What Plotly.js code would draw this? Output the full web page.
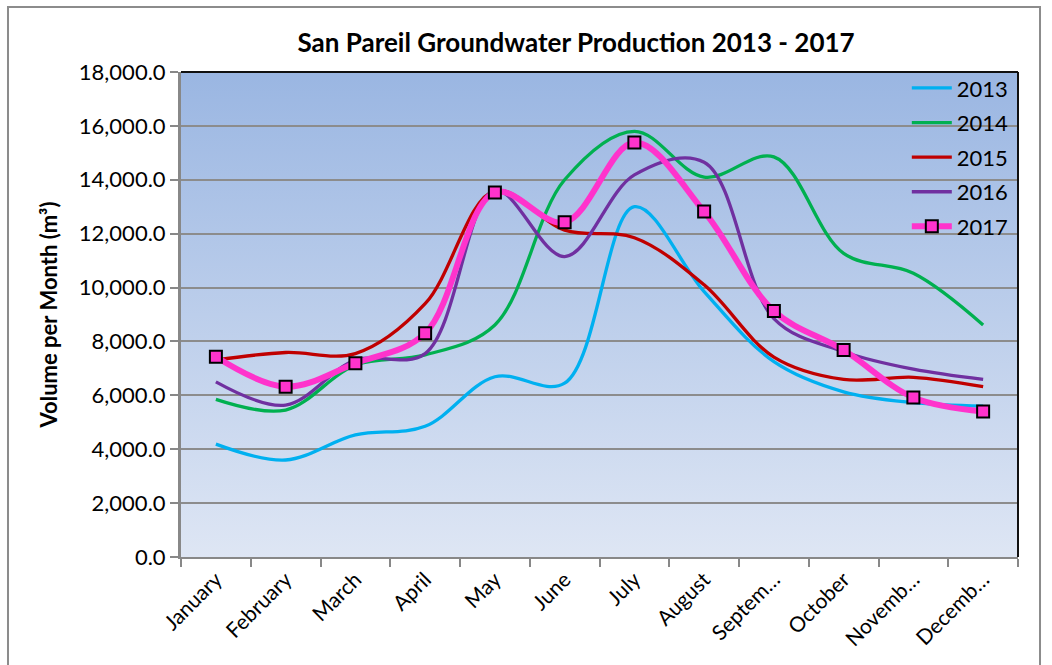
<!DOCTYPE html>
<html>
<head>
<meta charset="utf-8">
<script src="https://cdn.plot.ly/plotly-3.0.1.min.js"></script>
<style>
  html, body { margin: 0; padding: 0; background: #ffffff; }
  #chart { width: 1052px; height: 665px; }
</style>
</head>
<body>
<div id="chart"></div>
<script>
const months = ["January", "February", "March", "April", "May", "June", "July", "August", "September", "October", "November", "December"];
const tickLabels = ["January", "February", "March", "April", "May", "June", "July", "August", "Septem…", "October", "Novemb…", "Decemb…"];
const seriesNames = ["2013", "2014", "2015", "2016", "2017"];
const v2013 = [4190, 3600, 4530, 4850, 6690, 6450, 13000, 9850, 7250, 6130, 5730, 5600];
const v2014 = [5850, 5455, 7125, 7500, 8610, 14000, 15800, 14100, 14850, 11270, 10530, 8610];
const v2015 = [7310, 7590, 7550, 9400, 13600, 12130, 11850, 10100, 7420, 6590, 6670, 6320];
const v2016 = [6500, 5640, 7310, 7550, 13600, 11150, 14180, 14650, 8850, 7620, 6970, 6590];
const v2017 = [7430, 6320, 7190, 8300, 13530, 12420, 15380, 12820, 9130, 7680, 5920, 5400];
const yTicks = [0, 2000, 4000, 6000, 8000, 10000, 12000, 14000, 16000, 18000];

const colors = ["#00B0F0", "#00B050", "#C00000", "#7030A0", "#FF33CC"];
const values = [v2013, v2014, v2015, v2016, v2017];

const traces = values.map((v, i) => {
  const t = {
    type: "scatter",
    mode: i === 4 ? "lines+markers" : "lines",
    name: seriesNames[i],
    legendgroup: "g" + i,
    x: months,
    y: v,
    line: { color: colors[i], width: i === 4 ? 6 : 3.3, shape: "spline", smoothing: 1.0 },
    hoverinfo: "x+y+name"
  };
  if (i === 4) {
    t.marker = { symbol: "square", size: 12, color: "#FF33CC", line: { color: "#000000", width: 2 } };
  }
  return t;
});

const gradSvg = '<svg xmlns="http://www.w3.org/2000/svg" width="100" height="100" preserveAspectRatio="none">' +
  '<defs><linearGradient id="g" x1="0" y1="0" x2="0" y2="1">' +
  '<stop offset="0" stop-color="#9AB6E2"/><stop offset="1" stop-color="#DEE6F4"/>' +
  '</linearGradient></defs><rect width="100" height="100" fill="url(#g)"/></svg>';

const fam = "Lato, 'Liberation Sans', sans-serif";

const layout = {
  width: 1052,
  height: 665,
  margin: { l: 181, r: 34, t: 72, b: 108 },
  paper_bgcolor: "#ffffff",
  plot_bgcolor: "rgba(0,0,0,0)",
  font: { family: fam, color: "#000000" },
  title: {
    text: "<b>San Pareil Groundwater Production 2013 - 2017</b>",
    font: { size: 26, family: fam, color: "#000000" },
    xref: "paper", x: 0.472, xanchor: "center",
    yref: "container", y: 0.935, yanchor: "middle"
  },
  xaxis: {
    type: "category",
    range: [-0.5, 11.5],
    tickmode: "array",
    tickvals: months,
    ticktext: tickLabels,
    tickangle: -45,
    tickson: "boundaries",
    ticks: "outside",
    ticklen: 8,
    tickcolor: "#888888",
    tickwidth: 2,
    tickfont: { size: 21 },
    showgrid: false,
    showline: true,
    linecolor: "#888888",
    linewidth: 2,
    zeroline: false,
    fixedrange: true
  },
  yaxis: {
    range: [0, 18000],
    tickmode: "array",
    tickvals: yTicks,
    tickformat: ",.1f",
    ticks: "outside",
    ticklen: 8,
    tickcolor: "#888888",
    tickwidth: 2,
    tickfont: { size: 22 },
    showgrid: true,
    gridcolor: "#8C8C8C",
    gridwidth: 2,
    showline: true,
    linecolor: "#888888",
    linewidth: 3,
    zeroline: false,
    title: { text: "<b>Volume per Month (m³)</b>", font: { size: 22 }, standoff: 16 },
    fixedrange: true
  },
  legend: {
    x: 0.995, xanchor: "right",
    y: 1.01, yanchor: "top",
    bgcolor: "rgba(0,0,0,0)",
    font: { size: 22, color: "#000000" },
    tracegroupgap: 3,
    itemwidth: 40
  },
  images: [{
    source: "data:image/svg+xml;charset=utf-8," + encodeURIComponent(gradSvg),
    xref: "paper", yref: "paper",
    x: 0, y: 1, sizex: 1, sizey: 1,
    sizing: "stretch",
    layer: "below"
  }],
  shapes: [
    { type: "line", xref: "paper", yref: "paper", x0: 0, x1: 1, y0: 1, y1: 1, line: { color: "#111111", width: 2 } },
    { type: "line", xref: "paper", yref: "paper", x0: 1, x1: 1, y0: 0, y1: 1, line: { color: "#111111", width: 2 } },
    { type: "rect", xref: "paper", yref: "paper", x0: -0.2067, x1: 1.0263, y0: -0.23, y1: 1.134, line: { color: "#8C8C8C", width: 2 }, layer: "below" }
  ],
  showlegend: true
};

Plotly.newPlot("chart", traces, layout, { displayModeBar: false, staticPlot: true });
</script>
</body>
</html>
